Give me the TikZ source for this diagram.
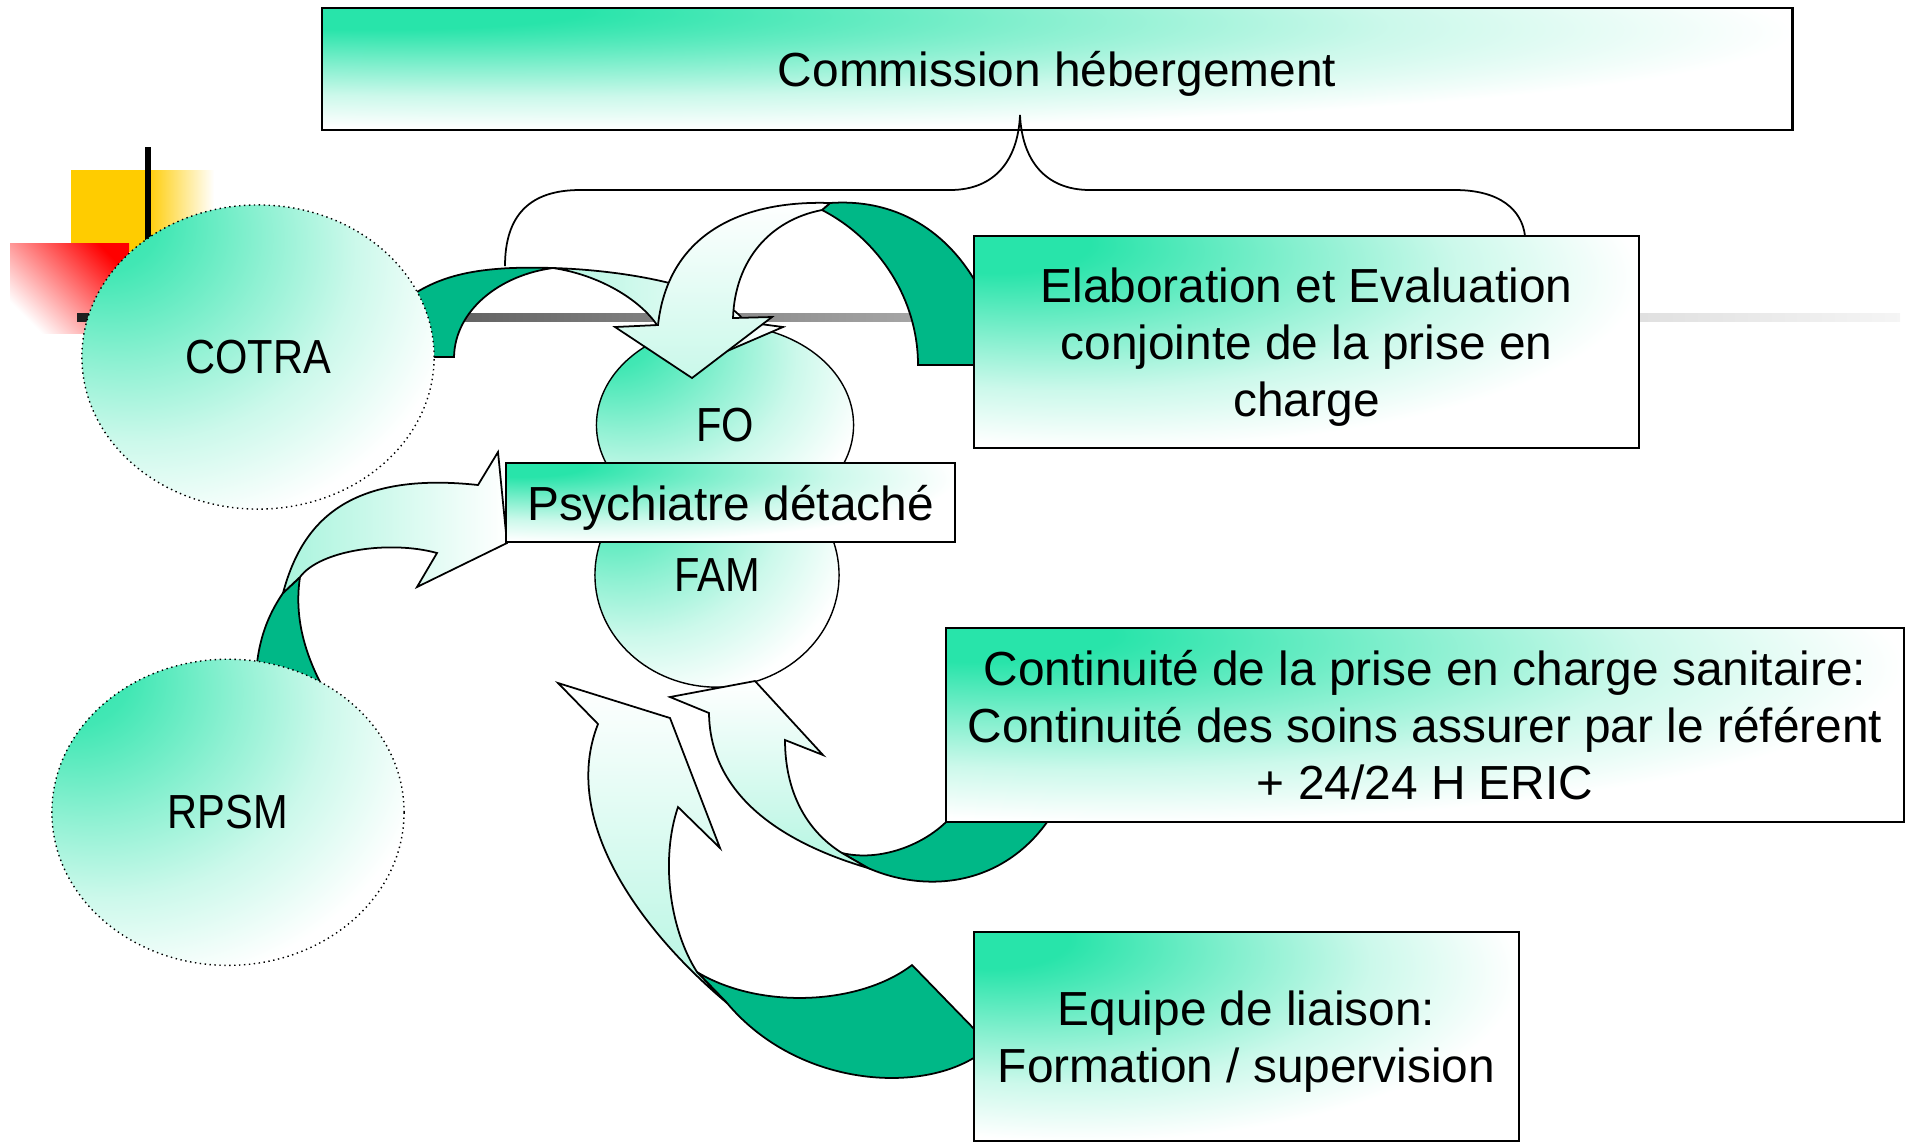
\documentclass[tikz,border=0pt]{standalone}
\usepackage{fontspec}
\setmainfont{Liberation Sans}
\newfontfamily\narrowsans[FakeStretch=0.87]{Liberation Sans}
\usetikzlibrary{shapes.geometric,positioning}
\definecolor{mint}{RGB}{40,228,170}
\definecolor{deepmint}{RGB}{0,184,135}
\definecolor{gold}{RGB}{255,204,0}
\pgfdeclareradialshading{boxglow}{\pgfpoint{-25bp}{25bp}}{color(0bp)=(mint); color(7bp)=(mint); color(19bp)=(mint!58!white); color(29bp)=(mint!24!white); color(40bp)=(white); color(100bp)=(white)}
\pgfdeclareradialshading{ballglow}{\pgfpoint{-25bp}{25bp}}{color(0bp)=(mint); color(9bp)=(mint!88!white); color(21bp)=(mint!52!white); color(31bp)=(mint!24!white); color(43bp)=(white); color(100bp)=(white)}
\pgfdeclarehorizontalshading{rulefade}{100bp}{color(0bp)=(black!88); color(25bp)=(black!88); color(36bp)=(black!60); color(48bp)=(black!35); color(75bp)=(black!4); color(100bp)=(black!4)}

\begin{document}
\begin{tikzpicture}[x=0.01cm,y=-0.01cm,on grid,
		font=\fontsize{13.6pt}{16.3pt}\selectfont,
		panel/.style={rectangle,draw=black,line width=0.6pt,shading=boxglow,inner sep=0pt,align=center},
		lowpanel/.style={panel,text depth=0pt},
		blob/.style={ellipse,draw=black,line width=0.4pt,shading=ballglow,inner sep=0pt,font=\fontsize{13.6pt}{16pt}\narrowsans},
		ring/.style={blob,densely dotted},
		back/.style={fill=deepmint,draw=black,line width=0.5pt},
		front/.style={draw=black,line width=0.5pt}]
		\useasboundingbox (0,0) rectangle (1910,1144);
		
		\fill[gold] (71,170) rectangle (146,252);
		\shade[left color=gold,right color=white] (146,170) rectangle (214,252);
		\shade[top color=red,bottom color=white,shading angle=-45] (10,243) rectangle (129,333);
		\draw[line width=1.7pt] (148,147) -- (148,275);
		\shade[shading=rulefade] (77,313) rectangle (1900,321);
		
		\node[lowpanel,minimum width=14.70cm,minimum height=1.22cm] (comm) at (1057,69) {Commission hébergement};
		\draw[line width=0.5pt] (505,266) .. controls (505,215) and (530,190) .. (580,190) -- (950,190)
			.. controls (995,190) and (1018,160) .. (1020,115) .. controls (1022,160) and (1045,190) .. (1090,190)
			-- (1455,190) .. controls (1500,190) and (1522,210) .. (1525,236);
		
		\node[blob,minimum width=2.57cm,minimum height=2.0cm] (fo) at (725,425) {FO};
		\node[blob,minimum width=2.44cm,minimum height=2.24cm] (fam) [below=1.5cm of fo,xshift=-0.08cm] {FAM};
		
		\filldraw[back] (410,357) -- (454,357) .. controls (455,310) and (500,275) .. (553,268)
			.. controls (490,266) and (450,272) .. (417,292) -- (405,300) -- cycle;
		\filldraw[front,left color=mint!35,right color=white] (553,268) .. controls (620,270) and (720,285) .. (745,322)
			-- (783,327) -- (690,367) -- (625,331) -- (657,325) .. controls (640,300) and (600,275) .. (553,268) -- cycle;
		
		\filldraw[back] (990,365) -- (918,365) .. controls (918,300) and (880,240) .. (822,210) -- (830,203)
			.. controls (900,198) and (955,235) .. (985,300) -- cycle;
		\filldraw[front,top color=white,bottom color=mint!25] (830,203) .. controls (740,200) and (668,235) .. (658,325)
			-- (615,327) -- (692,378) -- (772,317) -- (733,318) .. controls (735,260) and (770,220) .. (822,210) -- cycle;
		
		\filldraw[back] (256,700) -- (256,675) .. controls (258,640) and (268,615) .. (283,593) -- (300,577)
			.. controls (295,610) and (300,650) .. (330,700) -- cycle;
		\filldraw[front,left color=mint!40,right color=white] (283,593) .. controls (300,530) and (340,470) .. (478,485)
			-- (498,452) -- (507,543) -- (417,587) -- (437,553) .. controls (390,540) and (320,550) .. (300,577) -- cycle;
		
		\filldraw[back] (842,853) .. controls (880,862) and (925,845) .. (950,818) -- (1000,800) -- (1055,810)
			.. controls (1010,885) and (930,895) .. (868,868) -- cycle;
		\filldraw[front,top color=white,bottom color=mint!35] (709,713) -- (670,697) -- (755,681) -- (823,755) -- (785,740)
			.. controls (785,790) and (805,830) .. (842,853) -- (868,868) .. controls (790,845) and (710,800) .. (709,713) -- cycle;
		
		\filldraw[back] (697,972) .. controls (760,1010) and (860,1005) .. (912,965) -- (980,1035) -- (985,1050)
			.. controls (930,1095) and (800,1090) .. (727,1003) -- cycle;
		\filldraw[front,top color=white,bottom color=mint!35] (598,724) -- (558,683) -- (670,718) -- (720,848) -- (678,807)
			.. controls (660,860) and (670,930) .. (697,972) -- (727,1003) .. controls (640,930) and (560,820) .. (598,724) -- cycle;
		
		\node[ring,minimum width=3.52cm,minimum height=3.04cm] (cotra) at (258,357) {COTRA};
		\node[ring,minimum width=3.52cm,minimum height=3.06cm] (rpsm) [below=4.55cm of cotra,xshift=-0.3cm] {RPSM};
		
		\node[lowpanel,minimum width=4.49cm,minimum height=0.79cm] (psy) [below=0.775cm of fo,xshift=0.055cm] {Psychiatre détaché};
		\node[lowpanel,minimum width=6.65cm,minimum height=2.12cm] (elab) at (1306.5,342) {Elaboration et Evaluation\\conjointe de la prise en\\charge};
		\node[panel,minimum width=9.58cm,minimum height=1.94cm] (cont) at (1425,725) {Continuité de la prise en charge sanitaire:\\Continuité des soins assurer par le référent\\+ 24/24 H ERIC};
		\node[lowpanel,minimum width=5.45cm,minimum height=2.09cm] (equipe) at (1246.5,1036.5) {Equipe de liaison:\\Formation / supervision};
		\end{tikzpicture}
\end{document}
